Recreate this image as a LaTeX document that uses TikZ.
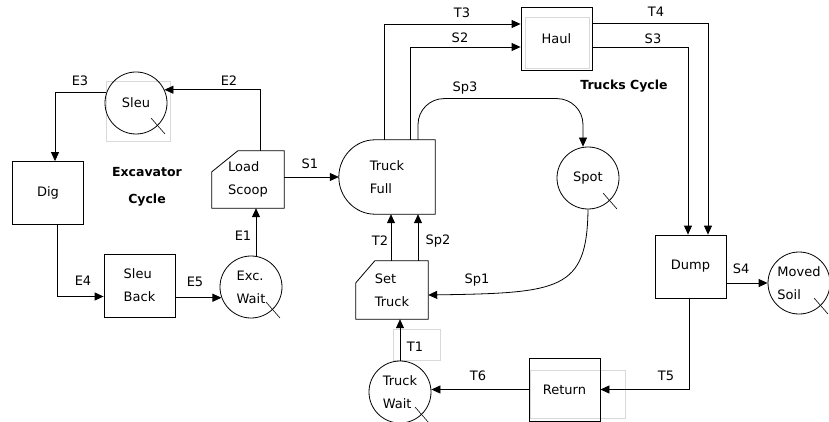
\documentclass[tikz,border=0pt]{standalone}
\usepackage{fontspec}
\setmainfont{DejaVu Sans}
\usetikzlibrary{arrows.meta,calc}

\begin{document}
\begin{tikzpicture}[x=1pt, y=-1pt,
    line/.style={line width=0.8pt},
    flow/.style={line width=0.8pt, -{Triangle[length=9pt,width=8pt]}},
    task/.style={draw, line width=0.8pt, minimum width=71pt, minimum height=63pt, inner sep=0pt, align=left, font=\fontsize{13}{23}\selectfont},
    queue/.style={draw, circle, line width=0.8pt, minimum size=62pt, inner sep=0pt, align=left, font=\fontsize{13}{23}\selectfont},
    combi/.style={inner sep=0pt, align=left, font=\fontsize{13}{23}\selectfont},
    lbl/.style={inner sep=0pt, font=\fontsize{13}{15}\selectfont},
    cyc/.style={inner sep=0pt, align=center, font=\bfseries\fontsize{12.5}{27}\selectfont},
    ghost/.style={draw=gray!30, line width=0.8pt}
]
    \useasboundingbox (0,0) rectangle (829,422);

    % Faint frames
    \draw[ghost] (106,81) rectangle (170,141);
    \draw[ghost] (525,17) rectangle (589,68);
    \draw[ghost] (393,329) rectangle (440,360);
    \draw[ghost] (530,370) rectangle (625,418);

    % Excavator cycle
    \node[queue] (sleu) at (136,103) {Sleu};
    \node[task] (dig) at (48,193) {Dig};
    \node[task] (sleuback) at (139.5,285.5) {Sleu\\Back};
    \node[queue] (excwait) at (251,287) {Exc.\\Wait};
    \node[combi, minimum width=72pt, minimum height=57pt] (ls) at (248,179.5) {Load\\Scoop};
    \draw[line] (ls.south west) -- ($(ls.north west)+(0,21)$) -- ($(ls.north west)+(26,0)$) -- (ls.north east) -- (ls.south east) -- cycle;
    \node[cyc] (exccyc) at (147,186.5) {Excavator\\Cycle};

    % Trucks cycle
    \node[combi, minimum width=96pt, minimum height=74pt] (full) at (387,177) {Truck\\Full};
    \draw[line] (full.north east) -- (full.south east) -- ($(full.south west)+(36,0)$) .. controls +(-20,0) and +(0,20) .. (full.west) .. controls +(0,-20) and +(-20,0) .. ($(full.north west)+(36,0)$) -- cycle;
    \node[task] (haul) at (556.5,38.5) {Haul};
    \node[queue] (spot) at (588,178) {Spot};
    \node[task] (dump) at (690.5,266.5) {Dump};
    \node[queue] (moved) at (799,283) {Moved\\Soil};
    \node[task] (return) at (564.5,389.5) {Return};
    \node[queue] (truckwait) at (400,392) {Truck\\Wait};
    \node[combi, minimum width=72pt, minimum height=58pt] (settruck) at (392,290) {Set\\Truck};
    \draw[line] (settruck.south west) -- ($(settruck.north west)+(0,22)$) -- ($(settruck.north west)+(19,0)$) -- (settruck.north east) -- (settruck.south east) -- cycle;
    \node[cyc] (trkcyc) at (624,86) {Trucks Cycle};

    % Queue marks
    \foreach \q in {sleu,excwait,spot,truckwait,moved}
        \draw[line width=0.6pt] (\q.center) ++(15,15) -- ++(14,16);

    % Excavator links
    \draw[flow] (sleu.160) -| ([xshift=7pt]dig.north);
    \draw[flow] ([xshift=9pt]dig.south) |- ([yshift=-11pt]sleuback.west);
    \draw[flow] (excwait.200 -| sleuback.east) -- (excwait.200);
    \draw[flow] ([xshift=5pt]excwait.north) -- ([xshift=5pt]excwait.north |- ls.south);
    \draw[flow] ([xshift=12pt]ls.north) |- (sleu.25);
    \draw[flow] (full.west -| ls.east) -- (full.west);

    % Truck links
    \draw[flow] ([xshift=-3pt]full.north) |- ([yshift=14.5pt]haul.west);
    \draw[flow] ([xshift=23pt]full.north) |- ([yshift=-8.5pt]haul.west);
    \draw[flow, rounded corners=26pt] ([xshift=31pt]full.north) |- ([xshift=-5pt, yshift=48pt]spot.north) -- ([xshift=-5pt]spot.north);
    \draw[flow] ([yshift=15.5pt]haul.east) -| ([xshift=17.5pt]dump.north);
    \draw[flow] ([yshift=-9pt]haul.east) -| ([xshift=-2.5pt]dump.north);
    \draw[flow] (moved.west -| dump.east) -- (moved.west);
    \draw[flow] ([xshift=-1.5pt]dump.south) |- (return.east);
    \draw[flow] (return.west) -- (return.west -| truckwait.east);
    \draw[flow] (truckwait.north) -- (truckwait.north |- settruck.south);
    \draw[flow] ([xshift=-1pt]settruck.north) -- ([xshift=-1pt]settruck.north |- full.south);
    \draw[flow] ([xshift=26pt]settruck.north) -- ([xshift=26pt]settruck.north |- full.south);
    \draw[flow] (spot.south) .. controls +(-1,81) and +(132,-2) .. ([yshift=-5pt]settruck.east);

    % Link labels
    \node[lbl] (lE1) at (243,236) {E1};
    \node[lbl] (lE2) at (229,81) {E2};
    \node[lbl] (lE3) at (80,81) {E3};
    \node[lbl] (lE4) at (83,281) {E4};
    \node[lbl] (lE5) at (195,282) {E5};
    \node[lbl] (lS1) at (310,164) {S1};
    \node[lbl] (lS2) at (460,38) {S2};
    \node[lbl] (lS3) at (653,39) {S3};
    \node[lbl] (lS4) at (741,269) {S4};
    \node[lbl] (lT1) at (415,347) {T1};
    \node[lbl] (lT2) at (380,241) {T2};
    \node[lbl] (lT3) at (462,13) {T3};
    \node[lbl] (lT4) at (656,12) {T4};
    \node[lbl] (lT5) at (666,376) {T5};
    \node[lbl] (lT6) at (478,376) {T6};
    \node[lbl] (lSp1) at (477,280) {Sp1};
    \node[lbl] (lSp2) at (438,241) {Sp2};
    \node[lbl] (lSp3) at (465,88) {Sp3};

\end{tikzpicture}
\end{document}
